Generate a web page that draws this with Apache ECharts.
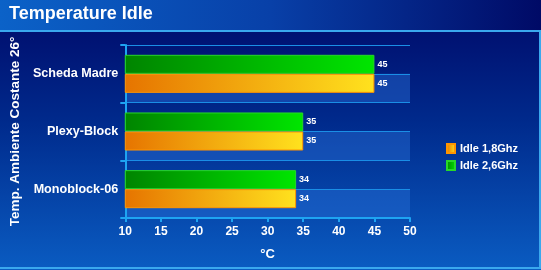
<!DOCTYPE html>
<html><head><meta charset="utf-8">
<script src="https://cdn.jsdelivr.net/npm/echarts@6/dist/echarts.min.js"></script>
<style>html,body{margin:0;padding:0;background:#00106e;}#c{width:541px;height:270px;}</style>
</head><body><div id="c"></div>
<script>
const categories = ['Monoblock-06', 'Plexy-Block', 'Scheda Madre'];
const idle18 = [34, 35, 45];
const idle26 = [34, 35, 45];
const seriesNames = ['Idle 1,8Ghz', 'Idle 2,6Ghz'];
const xTicks = [10, 15, 20, 25, 30, 35, 40, 45, 50];
const stripeCats = ['a','b','c','d','e','f'];

const chart = echarts.init(document.getElementById('c'), null, {renderer: 'canvas'});
const font = 'Liberation Sans, Arial, sans-serif';
const grad = (a, b) => new echarts.graphic.LinearGradient(0, 0, 1, 0, [{offset: 0, color: a}, {offset: 1, color: b}]);
const valLabel = {show: true, position: 'right', distance: 3, color: '#ffffff', fontWeight: 'bold', fontSize: 9, fontFamily: font};
chart.setOption({
  animation: false,
  graphic: [
    {type: 'rect', z: -10, shape: {x: 0, y: 0, width: 541, height: 270},
      style: {fill: new echarts.graphic.LinearGradient(0, 0, 0, 1, [{offset: 0, color: '#000868'}, {offset: 0.45, color: '#002a8c'}, {offset: 1, color: '#0a5cc2'}])}},
    {type: 'rect', z: -9, shape: {x: 0, y: 0, width: 541, height: 30},
      style: {fill: new echarts.graphic.LinearGradient(0, 0, 1, 0, [{offset: 0, color: '#0b62c8'}, {offset: 0.5, color: '#0840a8'}, {offset: 1, color: '#000a66'}])}},
    {type: 'rect', z: -8, shape: {x: 0, y: 30, width: 541, height: 2}, style: {fill: '#3aa8ee'}},
    {type: 'rect', z: -8, shape: {x: 0, y: 267, width: 541, height: 2}, style: {fill: '#3aa8ee'}},
    {type: 'rect', z: -8, shape: {x: 539, y: 31, width: 2, height: 237}, style: {fill: '#3aa8ee'}},
    {type: 'text', left: 9, top: 5, style: {text: 'Temperature Idle', fill: '#ffffff', font: 'bold 18px ' + font}}
  ],
  legend: {
    data: seriesNames, left: 441, top: 138, orient: 'vertical', itemWidth: 8, itemHeight: 9, itemGap: 6,
    textStyle: {color: '#ffffff', fontWeight: 'bold', fontSize: 11, fontFamily: font}, icon: 'rect'
  },
  grid: {left: 124, right: 131, top: 45, bottom: 52},
  xAxis: {
    type: 'value', min: 10, max: 50, interval: 5,
    name: '°C', nameLocation: 'middle', nameGap: 30,
    nameTextStyle: {color: '#ffffff', fontWeight: 'bold', fontSize: 13, fontFamily: font},
    axisLine: {show: true, lineStyle: {color: '#1ea4f2', width: 2}},
    axisTick: {show: true, length: 4, lineStyle: {color: '#1ea4f2', width: 2}},
    axisLabel: {color: '#ffffff', fontWeight: 'bold', fontSize: 12, fontFamily: font, margin: 8,
      formatter: v => xTicks.includes(v) ? String(v) : ''},
    splitLine: {show: false}
  },
  yAxis: [{
    type: 'category', data: categories,
    name: 'Temp. Ambiente Costante 26°', nameLocation: 'middle', nameGap: 96, nameRotate: 90,
    nameTextStyle: {color: '#ffffff', fontWeight: 'bold', fontSize: 13.5, fontFamily: font},
    axisLine: {show: true, lineStyle: {color: '#1ea4f2', width: 2}},
    axisTick: {show: true, length: 5, lineStyle: {color: '#1ea4f2', width: 2}},
    axisLabel: {color: '#ffffff', fontWeight: 'bold', fontSize: 12.6, fontFamily: font, margin: 7},
    splitLine: {show: false}
  }, {
    type: 'category', data: stripeCats, position: 'left', z: 0,
    axisLine: {show: false}, axisTick: {show: false}, axisLabel: {show: false},
    splitLine: {show: true, lineStyle: {color: '#1a8ee6', width: 1}},
    splitArea: {show: true, areaStyle: {color: ['rgba(40,110,215,0.45)', 'rgba(0,0,0,0)']}}
  }],
  series: [
    {name: seriesNames[1], type: 'bar', data: idle26, barGap: '0%', barCategoryGap: '34%',
      itemStyle: {color: grad('#008400', '#00e600'), borderColor: '#28d828', borderWidth: 1},
      label: valLabel},
    {name: seriesNames[0], type: 'bar', data: idle18, barGap: '0%', barCategoryGap: '34%',
      itemStyle: {color: grad('#e67400', '#ffe21e'), borderColor: '#ff9400', borderWidth: 1},
      label: valLabel}
  ]
});
</script></body></html>
